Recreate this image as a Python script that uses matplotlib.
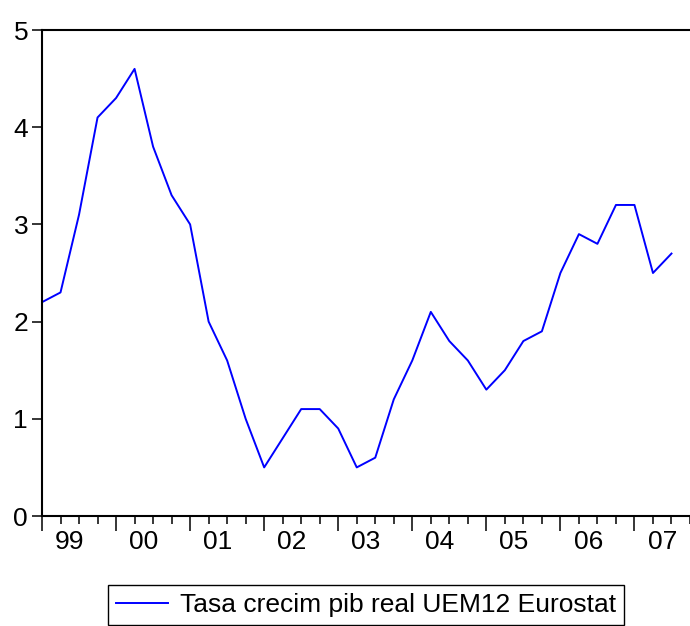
import matplotlib

matplotlib.use("Agg")
import matplotlib.pyplot as plt
from matplotlib.ticker import FixedLocator, NullFormatter

plt.rcParams["font.family"] = ["Liberation Sans", "DejaVu Sans"]

# quarterly growth, 1999Q1 .. 2007Q3
series_name = "Tasa crecim pib real UEM12 Eurostat"
values = [
    2.2, 2.3, 3.1, 4.1,   # 1999
    4.3, 4.6, 3.8, 3.3,   # 2000
    3.0, 2.0, 1.6, 1.0,   # 2001
    0.5, 0.8, 1.1, 1.1,   # 2002
    0.9, 0.5, 0.6, 1.2,   # 2003
    1.6, 2.1, 1.8, 1.6,   # 2004
    1.3, 1.5, 1.8, 1.9,   # 2005
    2.5, 2.9, 2.8, 3.2,   # 2006
    3.2, 2.5, 2.7,        # 2007
]
year_labels = ["99", "00", "01", "02", "03", "04", "05", "06", "07"]
y_ticks = [0, 1, 2, 3, 4, 5]

W, H = 690, 626
fig = plt.figure(figsize=(W / 100, H / 100), dpi=100)
ax = fig.add_axes([42 / W, 1 - 516 / H, 1 - 42 / W, (516 - 30) / H])

x = list(range(len(values)))
ax.plot(x, values, color="#0000ff", lw=1.4)

ax.set_xlim(0, 35)
ax.set_ylim(0, 5)

ax.spines["right"].set_visible(False)
for s in ["left", "top", "bottom"]:
    ax.spines[s].set_linewidth(1.5)

# y axis
ax.set_yticks(y_ticks)
ax.tick_params(axis="y", direction="out", length=7, width=1.1, labelsize=19, pad=3)

# x axis: long ticks at year starts, short ticks each quarter
ax.xaxis.set_major_locator(FixedLocator([4 * i for i in range(len(year_labels))]))
ax.xaxis.set_minor_locator(FixedLocator(list(range(0, 36))))
ax.xaxis.set_major_formatter(NullFormatter())
ax.tick_params(axis="x", which="major", direction="out", length=11, width=1.1)
ax.tick_params(axis="x", which="minor", direction="out", length=6, width=1.1)
for i, lab in enumerate(year_labels):
    ax.text(4 * i + 1.5, -0.27, lab, ha="center", va="center", fontsize=19,
            transform=ax.transData, clip_on=False)

leg_line, = ax.plot([], [], color="#0000ff", lw=1.4, label=series_name)
fig.legend(handles=[leg_line], loc="upper center",
           bbox_to_anchor=(366 / W, 1 - 585 / H), fontsize=19,
           frameon=True, fancybox=False, edgecolor="black", framealpha=1,
           handlelength=2.0, handletextpad=0.45, borderpad=0.3, borderaxespad=0)

fig.savefig("out.png", dpi=100)
